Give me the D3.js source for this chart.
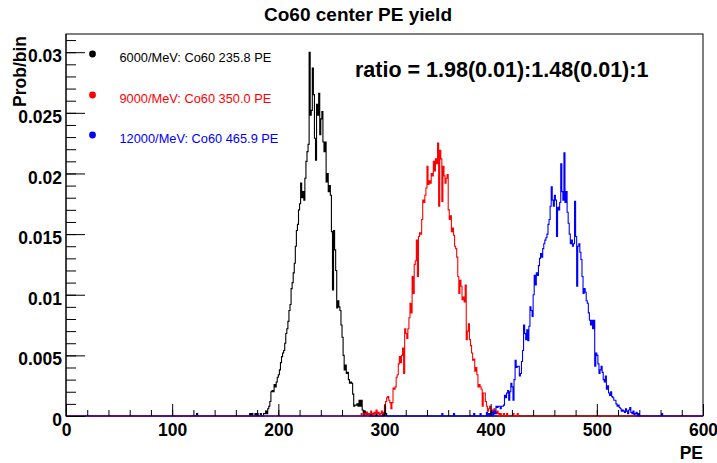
<!DOCTYPE html>
<html><head><meta charset="utf-8">
<script src="https://cdn.jsdelivr.net/npm/d3@7"></script>
<style>
body{margin:0;background:#fff}
text{font-family:"Liberation Sans",Arial,Helvetica,sans-serif}
</style>
</head><body>
<svg id="c" width="717" height="463"></svg>
<script>
// ---------- data ----------
const chartTitle = "Co60 center PE yield";
const xTitle = "PE";
const yTitle = "Prob/bin";
const ratioText = "ratio = 1.98(0.01):1.48(0.01):1";
const xDomain = [0, 600];
const yDomain = [0, 0.0315];
const nBins = 600;
const xTickValues = [0, 100, 200, 300, 400, 500, 600];
const xTickLabels = ["0", "100", "200", "300", "400", "500", "600"];
const yTickValues = [0, 0.005, 0.01, 0.015, 0.02, 0.025, 0.03];
const yTickLabels = ["0", "0.005", "0.01", "0.015", "0.02", "0.025", "0.03"];
const seriesNames = ["6000/MeV: Co60 235.8 PE", "9000/MeV: Co60 350.0 PE", "12000/MeV: Co60 465.9 PE"];
const seriesColors = ["#000000", "#ff0000", "#0000ff"];

// black: bins starting at PE = 120
const blackFirstBin = 120;
const blackValues = [
0,0,0,0.0002,0,0,0,0,0,0,
0,0,0,0,0,0,0,0,0,0,
0,0,0,0,0,0,0,0,0,0,
0,0,0,0,0,0,0,0,0,0,
0,0,0,0,0,0,0,0,0,0,
0,0,0,0.0002,0,0.0002,0,0,0.0002,0,
0.0002,0,0,0.0002,0,0,0.0002,0.0002,0.0004,0.0002,
0.0006,0.0008,0.0012,0.0020,0.0021,0.0020,0.0026,0.0024,0.0028,0.0032,
0.0034,0.0038,0.0044,0.0049,0.0052,0.0054,0.0060,0.0068,0.0072,0.0078,
0.0087,0.0092,0.0105,0.0110,0.0118,0.0126,0.0140,0.0153,0.0158,0.0170,
0.0175,0.0192,0.0180,0.0185,0.0178,0.0196,0.0210,0.0218,0.0224,0.0300,
0.0248,0.0252,0.0287,0.0265,0.0229,0.0211,0.0257,0.0248,0.0266,0.0232,
0.0245,0.0251,0.0226,0.0218,0.0226,0.0193,0.0200,0.0185,0.0190,0.0182,
0.0152,0.0104,0.0153,0.0137,0.0120,0.0089,0.0095,0.0090,0.0087,0.0075,
0.0065,0.0050,0.0038,0.0042,0.0035,0.0036,0.0030,0.0027,0.0028,0.0027,
0.0018,0.0008,0.0009,0.0009,0.0010,0.0008,0.0013,0.0008,0.0013,0.0005,
0.0003,0.0004,0.0002,0.0003,0.0001,0.0002,0,0.0002,0,0.0002,
0,0,0.0002,0,0,0,0,0,0.0002,0,0.0008,0.0002
];

// red: bins starting at PE = 277
const redFirstBin = 277;
const redValues = [
0,0.0002,0,
0,0.0002,0,0.0003,0.0002,0,0.0002,0.0004,0.0002,0,
0.0003,0.0002,0.0005,0.0002,0.0003,0,0.0002,0.0004,0.0002,0.0003,
0.0009,0.0012,0.0015,0.0016,0.0013,0.0011,0.0006,0.0011,0.0023,0.0022,
0.0024,0.0032,0.0034,0.0043,0.0049,0.0044,0.0050,0.0056,0.0035,0.0072,
0.0068,0.0064,0.0072,0.0081,0.0093,0.0085,0.0115,0.0101,0.0125,0.0128,
0.0145,0.0115,0.0148,0.0151,0.0150,0.0162,0.0178,0.0176,0.0182,0.0188,
0.0206,0.0191,0.0194,0.0192,0.0200,0.0198,0.0210,0.0202,0.0212,0.0208,
0.0225,0.0173,0.0219,0.0212,0.0177,0.0206,0.0198,0.0192,0.0196,0.0199,
0.0170,0.0162,0.0165,0.0152,0.0155,0.0149,0.0140,0.0138,0.0131,0.0115,
0.0101,0.0112,0.0107,0.0096,0.0098,0.0094,0.0108,0.0063,0.0070,0.0076,
0.0063,0.0058,0.0052,0.0046,0.0047,0.0037,0.0040,0.0034,0.0024,0.0026,
0.0024,0.0022,0.0008,0.0019,0.0019,0.0012,0.0008,0.0004,0.0006,0.0008,
0.0003,0.0005,0.0002,0.0006,0.0003,0.0002,0.0004,0.0002,0,0.0002,
0,0,0.0002,0,0,0.0002,0,0,0,0,
0,0.0002,0,0,0,0.0002
];

// blue: bins starting at PE = 350
const blueFirstBin = 350;
const blueValues = [
0,0,0,0,0.0002,0,0,0,0,0,
0,0,0,0,0,0.0002,0,0,0,0,
0,0,0,0,0,0,0,0,0,0,
0,0,0,0,0.0002,0,0,0,0,0,
0.0002,0,0,0,0,0,0.0003,0,0.0002,0,
0.0002,0.0003,0,0.0004,0.0002,0.0008,0.0007,0.0008,0.0008,0.0006,
0.0008,0.0008,0.0009,0.0017,0.0015,0.0019,0.0021,0.0013,0.0020,0.0027,
0.0024,0.0013,0.0030,0.0046,0.0040,0.0041,0.0041,0.0033,0.0035,0.0045,
0.0054,0.0075,0.0068,0.0063,0.0071,0.0062,0.0074,0.0090,0.0087,0.0082,
0.0100,0.0116,0.0108,0.0118,0.0116,0.0124,0.0130,0.0134,0.0131,0.0138,
0.0142,0.0145,0.0147,0.0150,0.0158,0.0162,0.0173,0.0189,0.0178,0.0173,
0.0182,0.0178,0.0148,0.0172,0.0170,0.0176,0.0208,0.0185,0.0178,0.0217,
0.0176,0.0185,0.0168,0.0159,0.0150,0.0142,0.0145,0.0140,0.0142,0.0177,
0.0148,0.0107,0.0140,0.0142,0.0135,0.0129,0.0115,0.0101,0.0105,0.0102,
0.0095,0.0093,0.0085,0.0079,0.0075,0.0079,0.0072,0.0079,0.0041,0.0052,
0.0050,0.0043,0.0035,0.0038,0.0041,0.0036,0.0030,0.0028,0.0033,0.0022,
0.0025,0.0019,0.0017,0.0020,0.0016,0.0015,0.0013,0.0013,0.0010,0.0008,
0.0009,0.0007,0.0006,0.0004,0.0005,0.0004,0.0003,0.0006,0.0004,0.0002,
0.0005,0.0007,0.0003,0.0002,0.0004,0.0001,0.0002,0.0003,0,0.0002,
0,0,0,0,0,0,0,0,0,0,
0,0,0,0,0,0,0,0,0,0,
0,0.0002
];

// ---------- layout ----------
const W = 717, H = 463;
const plot = {left: 66, right: 703, top: 34, bottom: 416};
const svg = d3.select("#c");
svg.append("rect").attr("width", W).attr("height", H).attr("fill", "#fff");

const x = d3.scaleLinear().domain(xDomain).range([plot.left, plot.right]);
const y = d3.scaleLinear().domain(yDomain).range([plot.bottom, plot.top]);

// frame (drawn first, histograms over it like ROOT)
svg.append("rect").attr("x", plot.left).attr("y", plot.top)
  .attr("width", plot.right - plot.left).attr("height", plot.bottom - plot.top)
  .attr("fill", "none").attr("stroke", "#000").attr("stroke-width", 1);

function fullHist(first, vals) {
  const h = new Array(nBins).fill(0);
  vals.forEach((v, i) => { if (first + i < nBins) h[first + i] = v; });
  return h;
}
const hists = [
  fullHist(blackFirstBin, blackValues),
  fullHist(redFirstBin, redValues),
  fullHist(blueFirstBin, blueValues)
];
const binW = (xDomain[1] - xDomain[0]) / nBins;

const line = d3.line().x(d => x(d[0])).y(d => y(d[1])).curve(d3.curveStepAfter);
const gH = svg.append("g");
hists.forEach((h, k) => {
  const pts = h.map((v, i) => [xDomain[0] + i * binW, v]);
  pts.push([xDomain[1], h[nBins - 1]]);
  gH.append("path").attr("d", line(pts)).attr("fill", "none")
    .attr("stroke", seriesColors[k]).attr("stroke-width", 1.1);
});

// y axis ticks (inside)
const yMinor = d3.range(0, 0.03151, 0.001);
svg.append("g").attr("transform", `translate(${plot.left},0)`)
  .call(d3.axisRight(y).tickValues(yMinor).tickSize(10).tickFormat(""))
  .call(g => g.select(".domain").remove());
svg.append("g").attr("transform", `translate(${plot.left},0)`)
  .call(d3.axisRight(y).tickValues(yTickValues).tickSize(19).tickFormat(""))
  .call(g => g.select(".domain").remove());
svg.append("line").attr("x1", plot.left).attr("x2", plot.left)
  .attr("y1", plot.top).attr("y2", plot.bottom).attr("stroke", "#000");
svg.append("g").attr("transform", `translate(${plot.left},0)`)
  .call(d3.axisLeft(y).tickValues(yTickValues).tickSize(0).tickPadding(4)
    .tickFormat((d, i) => yTickLabels[i]))
  .call(g => g.select(".domain").remove())
  .call(g => g.selectAll("text").attr("font-size", 17.5).attr("font-weight", "bold")
    .attr("fill", "#000").attr("font-family", "Liberation Sans, Arial, sans-serif")
    .attr("dy", "0.55em"));

// x axis ticks (inside, upward)
const xMinor = d3.range(0, 601, 20);
svg.append("g").attr("transform", `translate(0,${plot.bottom})`)
  .call(d3.axisTop(x).tickValues(xMinor).tickSize(6).tickFormat(""))
  .call(g => g.select(".domain").remove());
svg.append("g").attr("transform", `translate(0,${plot.bottom})`)
  .call(d3.axisTop(x).tickValues(xTickValues).tickSize(12).tickFormat(""))
  .call(g => g.select(".domain").remove());
svg.append("g").attr("transform", `translate(0,${plot.bottom})`)
  .call(d3.axisBottom(x).tickValues(xTickValues).tickSize(0).tickPadding(8)
    .tickFormat((d, i) => xTickLabels[i]))
  .call(g => g.select(".domain").remove())
  .call(g => g.selectAll("text").attr("font-size", 17.5).attr("font-weight", "bold")
    .attr("fill", "#000").attr("font-family", "Liberation Sans, Arial, sans-serif"));

svg.selectAll(".tick line").attr("stroke", "#000").attr("stroke-width", 1);

// titles
svg.append("text").attr("x", 358).attr("y", 21).attr("text-anchor", "middle")
  .attr("font-size", 19).attr("font-weight", "bold").text(chartTitle);
svg.append("text").attr("transform", "translate(26,36) rotate(-90)")
  .attr("text-anchor", "end").attr("font-size", 17.5).attr("font-weight", "bold").text(yTitle);
svg.append("text").attr("x", 703).attr("y", 459).attr("text-anchor", "end")
  .attr("font-size", 17.5).attr("font-weight", "bold").text(xTitle);

// ratio text
svg.append("text").attr("x", 355).attr("y", 77).attr("font-size", 21.5)
  .attr("font-weight", "bold").text(ratioText);

// legend
const legY = [54, 95, 135];
seriesNames.forEach((n, k) => {
  svg.append("circle").attr("cx", 92.5).attr("cy", legY[k]).attr("r", 3.4).attr("fill", seriesColors[k]);
  svg.append("text").attr("x", 119.5).attr("y", legY[k] + 7.5).attr("font-size", 12.8)
    .attr("fill", seriesColors[k]).text(n);
});
</script>
</body></html>
